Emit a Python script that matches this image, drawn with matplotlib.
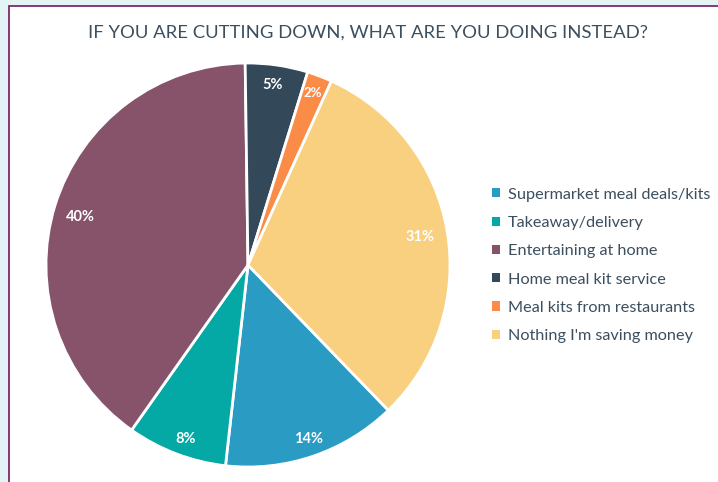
import matplotlib.pyplot as plt
from matplotlib.patches import Rectangle, Patch

labels = ["Supermarket meal deals/kits", "Takeaway/delivery", "Entertaining at home",
          "Home meal kit service", "Meal kits from restaurants", "Nothing I'm saving money"]
shares = [14, 8, 40, 5, 2, 31]
colors = ["#2a9bc3", "#04a9a5", "#87536b", "#33495a", "#fb8c47", "#f9d080"]

plt.rcParams['font.family'] = ['Lato', 'DejaVu Sans']

W, H = 718, 482
fig = plt.figure(figsize=(W / 100, H / 100), dpi=100)
fig.patch.set_facecolor("#e4f4f5")

# white card with a thin purple edge, kept behind the axes
fig.patches.append(Rectangle((8.5 / W, -0.01), 1.02, (H - 6.5) / H + 0.01,
                             transform=fig.transFigure, facecolor="white",
                             edgecolor="#7b2a6c", linewidth=1.3, zorder=-5))

cx, cy, r = 248, 265, 202
ax = fig.add_axes([(cx - r) / W, (H - cy - r) / H, 2 * r / W, 2 * r / H])
ax.patch.set_visible(False)
wedges, texts, autotexts = ax.pie(
    shares, colors=colors, startangle=-46, counterclock=False, radius=1,
    autopct=lambda p: f"{p:.0f}%", pctdistance=0.87,
    wedgeprops=dict(edgecolor="white", linewidth=2),
    textprops=dict(color="white", fontsize=10.5, fontweight="bold"))
# label positions nudged by hand
autotexts[0].set_position((0.30, -0.86))
autotexts[1].set_position((-0.31, -0.86))
autotexts[2].set_position((-0.83, 0.24))
autotexts[3].set_position((0.12, 0.89))
autotexts[4].set_position((0.32, 0.85))
autotexts[4].set_fontsize(9.5)
autotexts[5].set_position((0.85, 0.14))
ax.set_xlim(-1, 1)
ax.set_ylim(-1, 1)
ax.set_aspect("equal")
for w in wedges:
    w.set_clip_on(False)

fig.text(368 / W, 1 - 33 / H, "IF YOU ARE CUTTING DOWN, WHAT ARE YOU DOING INSTEAD?",
         ha="center", va="center", fontsize=13.3, color="#3c4f5e")

handles = [Patch(facecolor=c, edgecolor="none") for c in colors]
fig.legend(handles, labels, loc="upper left", bbox_to_anchor=(477 / W, 1 - 173 / H),
           frameon=False, fontsize=11.7, labelcolor="#3c4f5e",
           handlelength=0.5, handleheight=0.5, handletextpad=0.5,
           labelspacing=0.88)

fig.savefig("out.png", dpi=100, facecolor=fig.get_facecolor())
